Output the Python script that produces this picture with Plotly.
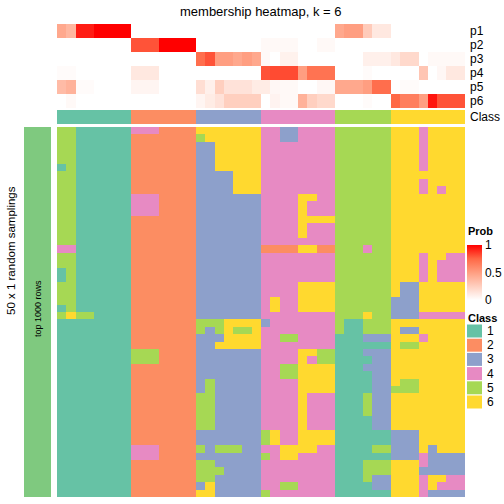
import plotly.graph_objects as go

W = H = 504

# ---------------- data ----------------
prob_rows = ["p1", "p2", "p3", "p4", "p5", "p6"]
p1 = [0.45, 0.38, 0.93, 0.93, 1, 1, 1, 1,
      0, 0, 0, 0, 0, 0, 0,
      0, 0, 0, 0, 0, 0, 0,
      0, 0, 0, 0, 0, 0, 0, 0,
      0.45, 0.5, 0.5, 0.27, 0.12, 0.12,
      0, 0, 0, 0, 0, 0, 0, 0]
p2 = [0, 0, 0, 0, 0, 0, 0, 0,
      0.8, 0.8, 0.8, 1, 1, 1, 1,
      0, 0, 0, 0, 0, 0, 0,
      0.03, 0.03, 0.03, 0.03, 0, 0, 0.03, 0.03,
      0, 0, 0, 0, 0, 0,
      0, 0, 0, 0, 0, 0, 0, 0]
p3 = [0, 0, 0, 0, 0, 0, 0, 0,
      0, 0, 0, 0, 0, 0, 0,
      0.72, 0.8, 0.5, 0.5, 0.45, 0.5, 0.45,
      0.03, 0, 0.07, 0.07, 0, 0, 0, 0,
      0, 0, 0, 0.08, 0.08, 0.08,
      0.12, 0.2, 0.2, 0, 0.03, 0.03, 0.03, 0.03]
p4 = [0.02, 0.02, 0, 0, 0, 0, 0, 0,
      0.12, 0.12, 0.12, 0, 0, 0, 0,
      0, 0, 0, 0, 0, 0, 0,
      0.8, 0.82, 0.82, 0.82, 0.5, 0.7, 0.7, 0.7,
      0, 0, 0, 0.02, 0, 0,
      0, 0, 0, 0.3, 0, 0.04, 0.12, 0.12]
p5 = [0.35, 0.4, 0.02, 0.02, 0, 0, 0, 0,
      0.05, 0.05, 0.05, 0, 0, 0, 0,
      0.17, 0.08, 0.25, 0.15, 0.15, 0.15, 0.1,
      0.1, 0.04, 0.03, 0.03, 0, 0, 0.04, 0.04,
      0.45, 0.45, 0.45, 0.5, 0.72, 0.72,
      0, 0.02, 0.02, 0, 0, 0, 0, 0]
p6 = [0, 0.03, 0, 0, 0, 0, 0, 0,
      0, 0, 0, 0, 0, 0, 0,
      0.05, 0.1, 0.15, 0.25, 0.25, 0.25, 0.25,
      0, 0.06, 0.03, 0.03, 0.4, 0.25, 0.2, 0.2,
      0, 0, 0, 0.02, 0, 0,
      0.75, 0.65, 0.65, 0.5, 0.95, 0.8, 0.8, 0.8]

column_class = [1] * 8 + [2] * 7 + [3] * 7 + [4] * 8 + [5] * 6 + [6] * 8

# 50 random samplings x 44 samples (class labels)
sampling_rows = [
    "55111111" "4442222" "6666666" "44334444" "555555" "66646666",
    "55111111" "2222222" "5666666" "44334444" "555555" "66646666",
    "55111111" "2222222" "3366666" "44444444" "555555" "66646666",
    "55111111" "2222222" "3366666" "44444444" "555555" "66646666",
    "55111111" "2222222" "3366666" "44444444" "555555" "66646666",
    "15111111" "2222222" "3366666" "44444444" "555555" "66646666",
    "55111111" "2222222" "3333666" "44444444" "555555" "66666666",
    "55111111" "2222222" "3333666" "44444444" "555555" "66646666",
    "55111111" "2222222" "3333666" "44444444" "555555" "66646466",
    "55111111" "4442222" "3333333" "44446644" "555555" "66666666",
    "55111111" "4442222" "3333333" "44446444" "555555" "66666666",
    "55111111" "4442222" "3333333" "44446444" "555555" "66666666",
    "55111111" "2222222" "3333333" "44446666" "555555" "66666666",
    "55111111" "2222222" "3333333" "44446444" "555555" "66666666",
    "55111111" "2222222" "3333333" "44446444" "555555" "66666666",
    "55111111" "2222222" "3333333" "44444444" "555555" "66666666",
    "44111111" "2222222" "3333333" "22226622" "555455" "66666666",
    "55111111" "2222222" "3333333" "44444444" "555555" "66646644",
    "55111111" "2222222" "3333333" "44444444" "555555" "66646444",
    "15111111" "2222222" "3333333" "44444444" "555555" "66646444",
    "15111111" "2222222" "3333333" "44444444" "555555" "66646444",
    "55111111" "2222222" "3333333" "44446666" "555555" "63366666",
    "55111111" "2222222" "3333333" "44446666" "555555" "63366666",
    "55111111" "2222222" "3333333" "46446666" "555555" "33366666",
    "15111111" "2222222" "3333333" "46446666" "555555" "33366666",
    "56551111" "2222222" "3333333" "44444444" "555655" "33344444",
    "11111111" "2222222" "5556666" "34444444" "511555" "66666666",
    "11111111" "2222222" "5356556" "44444444" "511555" "63366666",
    "11111111" "2222222" "3336666" "44554444" "111333" "66646666",
    "11111111" "2222222" "3366666" "44444444" "111111" "65566666",
    "11111111" "5552222" "3333333" "44446655" "111333" "66666666",
    "11111111" "5552222" "3333333" "44446455" "111133" "66666666",
    "11111111" "2222222" "3333333" "44556666" "111333" "66666666",
    "11111111" "2222222" "3333333" "44556666" "111133" "66666666",
    "11111111" "2222222" "3533333" "44446666" "111133" "65566666",
    "11111111" "2222222" "3533333" "44446666" "111133" "55566666",
    "11111111" "2222222" "5533333" "44446444" "111533" "66666666",
    "11111111" "2222222" "5533333" "44446444" "111533" "66666666",
    "11111111" "2222222" "5533333" "44446444" "111533" "66666666",
    "11111111" "2222222" "5533333" "44446444" "111133" "66666666",
    "11111111" "2222222" "5533333" "44446444" "111133" "66666666",
    "11111111" "2222222" "3333333" "56446666" "111111" "33366666",
    "11111111" "2222222" "3333333" "56446666" "111111" "33366666",
    "11111111" "4442222" "5355533" "44666644" "111155" "33363666",
    "11111111" "4442222" "3333333" "54664444" "111111" "33343333",
    "11111111" "2222222" "5533333" "44444444" "111555" "66643333",
    "11111111" "2222222" "5553333" "44444444" "111555" "66633333",
    "11111111" "2222222" "5533333" "44444444" "111533" "66646644",
    "11111111" "2222222" "3633333" "44554444" "111133" "66646444",
    "11111111" "2222222" "6633333" "54444444" "111111" "66643333",
]

class_labels = ["1", "2", "3", "4", "5", "6"]
class_colors = ["#66C2A5", "#FC8D62", "#8DA0CB", "#E78AC3", "#A6D854", "#FFD92F"]
prob_ticks = [0, 0.5, 1]

# ---------------- helpers ----------------
def px(x):
    return x / W

def py(y):
    return 1 - y / H

prob_scale = [[0, "#ffffff"], [0.25, "rgb(255,207,191)"], [0.5, "rgb(255,158,129)"],
              [0.75, "rgb(255,104,70)"], [1, "#ff0000"]]

class_scale = []
for k, c in enumerate(class_colors):
    class_scale.append([k / 6, c])
    class_scale.append([(k + 1) / 6, c])

n_cols = len(column_class)
cols = list(range(n_cols))
main_z = [[int(ch) for ch in row] for row in sampling_rows]

FONT = "Liberation Sans, Arial, Helvetica, sans-serif"

fig = go.Figure()

# top probability annotation
fig.add_trace(go.Heatmap(
    z=[p1, p2, p3, p4, p5, p6], x=cols, y=list(range(6)),
    colorscale=prob_scale, zmin=0, zmax=1, xaxis="x", yaxis="y",
    hoverinfo="skip",
    colorbar=dict(x=px(467), xanchor="left", xpad=0, ypad=0,
                  y=py(272.5), yanchor="middle", len=55, lenmode="pixels",
                  thickness=15, thicknessmode="pixels", outlinewidth=0,
                  tickvals=prob_ticks, ticktext=[str(t) for t in prob_ticks],
                  ticks="", tickfont=dict(size=12, family=FONT, color="#000"))))

# class row
fig.add_trace(go.Heatmap(
    z=[column_class], x=cols, y=[0], colorscale=class_scale, zmin=0.5, zmax=6.5,
    showscale=False, xaxis="x", yaxis="y2", hoverinfo="skip"))

# main membership heatmap
fig.add_trace(go.Heatmap(
    z=main_z, x=cols, y=list(range(len(main_z))), colorscale=class_scale,
    zmin=0.5, zmax=6.5, showscale=False, xaxis="x", yaxis="y3", hoverinfo="skip"))

hidden = dict(visible=False, showgrid=False, zeroline=False, fixedrange=True)
fig.update_layout(
    width=W, height=H, margin=dict(l=0, r=0, t=0, b=0),
    paper_bgcolor="white", plot_bgcolor="white", showlegend=False,
    font=dict(family=FONT, color="#000"),
    xaxis=dict(domain=[px(57), px(465)], range=[-0.5, n_cols - 0.5], **hidden),
    yaxis=dict(domain=[py(108), py(24)], range=[5.5, -0.5], anchor="x", **hidden),
    yaxis2=dict(domain=[py(124), py(110)], range=[-0.5, 0.5], anchor="x", **hidden),
    yaxis3=dict(domain=[py(497), py(127)], range=[len(main_z) - 0.5, -0.5], anchor="x", **hidden),
)

shapes = []
ann = []

# left sampling bar
shapes.append(dict(type="rect", xref="paper", yref="paper", x0=px(24), x1=px(51),
                   y0=py(497), y1=py(127), fillcolor="#7FC97F", line=dict(width=0)))

ann.append(dict(text="membership heatmap, k = 6", x=px(261), y=py(11), xref="paper", yref="paper",
                showarrow=False, font=dict(size=13), xanchor="center", yanchor="middle"))
ann.append(dict(text="50 x 1 random samplings", x=px(11), y=py(251), xref="paper", yref="paper",
                showarrow=False, textangle=-90, font=dict(size=11.5), xanchor="center", yanchor="middle"))
ann.append(dict(text="top 1000 rows", x=px(38), y=py(309), xref="paper", yref="paper",
                showarrow=False, textangle=-90, font=dict(size=9), xanchor="center", yanchor="middle"))

for i, lab in enumerate(prob_rows):
    ann.append(dict(text=lab, x=px(468), y=py(31 + 14 * i), xref="paper", yref="paper",
                    showarrow=False, font=dict(size=12), xanchor="left", yanchor="middle"))
ann.append(dict(text="Class", x=px(468), y=py(117), xref="paper", yref="paper",
                showarrow=False, font=dict(size=12), xanchor="left", yanchor="middle"))

# legends
ann.append(dict(text="<b>Prob</b>", x=px(466), y=py(231), xref="paper", yref="paper",
                showarrow=False, font=dict(size=11), xanchor="left", yanchor="middle"))
ann.append(dict(text="<b>Class</b>", x=px(466), y=py(318), xref="paper", yref="paper",
                showarrow=False, font=dict(size=11), xanchor="left", yanchor="middle"))
for k, (lab, c) in enumerate(zip(class_labels, class_colors)):
    yc = 331 + 14.2 * k
    shapes.append(dict(type="rect", xref="paper", yref="paper", x0=px(467), x1=px(482),
                       y0=py(yc + 6.5), y1=py(yc - 6.5), fillcolor=c, line=dict(width=0)))
    ann.append(dict(text=lab, x=px(485), y=py(yc), xref="paper", yref="paper",
                    showarrow=False, font=dict(size=12), xanchor="left", yanchor="middle"))

fig.update_layout(shapes=shapes, annotations=ann)
fig.write_html("out.html", config={"displayModeBar": False},
               post_script="document.body.style.margin='0';")
